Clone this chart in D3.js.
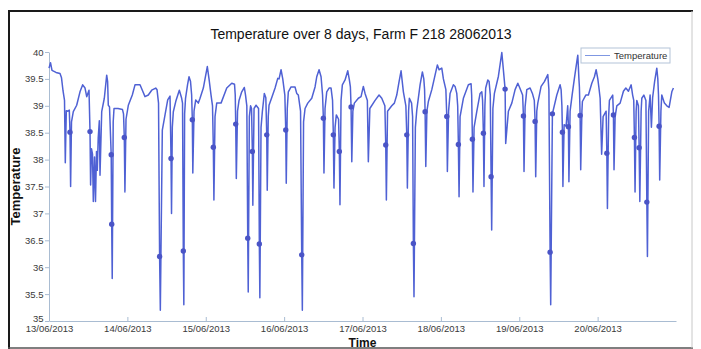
<!DOCTYPE html>
<html>
<head>
<meta charset="utf-8">
<script src="https://cdnjs.cloudflare.com/ajax/libs/d3/7.8.5/d3.min.js"></script>
<style>
  body { margin: 0; background: #fff; }
  svg { display: block; font-family: "Liberation Sans", Arial, sans-serif; }
</style>
</head>
<body>
<div id="chart"></div>
<script>
// readings: hours since 13/06/2013 00:00 and body temperature
var hours = [
  0.00,0.46,0.92,2.14,3.37,3.83,4.29,4.75,4.99,5.30,
  5.76,6.22,6.43,6.62,6.89,7.44,8.48,9.49,10.32,11.03,
  11.55,12.25,12.56,12.74,13.02,13.32,13.57,13.94,14.24,14.55,
  14.79,15.07,15.41,15.62,16.14,16.94,17.67,17.95,18.16,18.53,
  19.05,19.20,19.36,19.66,19.91,21.13,22.51,22.82,23.06,23.25,
  23.58,24.29,25.51,26.34,27.87,28.58,29.40,30.41,31.45,32.68,
  33.08,33.54,33.87,34.09,34.70,35.53,36.35,37.06,37.37,37.52,
  37.76,38.07,38.90,39.91,40.58,40.89,41.13,41.29,41.53,41.81,
  42.42,42.88,43.34,43.68,43.89,44.04,44.41,44.93,45.73,46.25,
  47.26,47.78,48.48,49.00,49.62,50.07,50.32,50.50,50.84,51.36,
  52.68,54.43,55.96,56.81,57.03,57.18,57.36,57.73,58.19,59.02,
  59.82,60.18,60.58,60.86,61.01,61.35,61.72,62.02,62.27,62.42,
  62.79,63.40,64.17,64.41,64.57,64.93,65.33,65.94,66.40,66.68,
  66.83,67.14,67.38,68.30,69.23,70.05,70.45,71.06,71.58,72.22,
  72.50,72.65,72.96,73.29,74.12,75.34,75.86,76.35,77.03,77.39,
  77.58,77.95,78.41,79.24,80.46,81.47,81.99,82.70,83.31,83.77,
  84.02,84.20,84.53,85.05,85.76,86.37,86.83,87.07,87.26,87.60,
  87.99,88.67,88.91,89.10,89.43,89.83,90.66,91.49,91.98,92.29,
  92.50,92.72,93.05,93.51,94.73,95.56,96.26,96.78,97.49,97.79,
  98.25,99.85,101.07,101.90,102.85,103.12,103.31,103.67,104.96,105.76,
  106.49,107.20,107.81,108.52,109.28,109.56,109.74,110.11,110.35,111.03,
  111.34,111.58,111.77,112.19,112.62,113.63,114.34,114.77,115.01,115.17,
  115.38,115.72,116.17,117.22,118.22,118.93,119.45,120.28,120.77,121.53,
  121.81,121.99,122.36,122.82,123.83,124.35,124.87,125.15,125.36,125.57,
  125.88,126.89,128.42,129.25,129.43,129.65,129.83,130.17,130.99,132.01,
  132.53,132.77,133.02,133.20,133.48,133.72,134.37,134.77,135.13,135.38,
  135.56,135.93,136.39,137.62,138.66,139.67,139.85,140.68,141.72,142.73,
  143.56,144.05,145.03,145.28,145.46,145.79,146.31,147.32,148.03,148.61,
  148.85,149.04,149.37,149.68,150.69,151.70,152.74,153.08,153.45,153.63,
  154.15,155.50,156.51,156.82,157.06,157.22,157.37,157.74,158.35,158.84,
  159.06,159.21,159.57,160.19,160.89,161.63,161.93,162.27,162.42,162.64,
  162.82,163.19,163.34,164.38,165.18,166.22,167.02,167.54,168.06,168.37,
  168.77,169.23,169.68,170.60,170.82,171.00,171.37,171.61,172.62,172.84,
  173.02,173.36,173.88,174.89,175.90,176.64,177.43,178.26,178.72,179.06,
  179.27,179.46,179.79,180.00,180.49,180.71,180.92,181.32,181.53,182.15,
  182.79,183.07,183.25,183.62,184.07,184.47,184.84,185.45,186.12,186.43,
  186.64,186.83,187.01,187.38,187.65,188.45,189.19,189.89,190.72,191.21
];
var temps = [
  39.70,39.80,39.66,39.62,39.60,39.52,39.28,39.10,37.94,38.91,
  38.90,38.92,38.51,37.50,38.70,38.89,39.01,39.26,39.39,39.33,
  39.17,39.29,38.52,37.53,38.20,38.10,37.22,38.05,37.22,38.15,
  37.80,38.40,38.72,37.71,38.89,39.14,39.57,39.45,39.01,38.98,
  38.09,36.80,35.79,38.70,38.95,38.95,38.93,38.85,38.41,37.40,
  38.75,39.01,39.20,39.39,39.39,39.29,39.17,39.20,39.29,39.33,
  39.30,39.05,36.20,35.20,38.55,38.83,39.11,39.18,38.02,37.00,
  38.60,38.89,39.10,39.29,39.15,39.05,36.30,35.30,38.85,39.14,
  39.39,39.54,39.45,39.20,38.74,37.75,38.90,39.11,39.05,39.14,
  39.33,39.50,39.73,39.50,39.20,39.00,38.23,37.25,38.80,39.05,
  39.05,39.33,39.42,39.40,39.20,38.66,37.65,38.90,39.10,39.26,
  39.34,39.20,39.00,36.54,35.54,38.80,39.00,38.95,38.15,37.15,
  38.95,39.01,38.95,36.43,35.43,38.60,38.89,39.23,39.15,38.46,
  37.43,38.80,39.01,39.17,39.33,39.51,39.50,39.67,39.50,39.20,
  38.55,37.56,38.95,39.26,39.35,39.35,39.23,39.20,38.90,36.23,
  35.20,38.70,38.95,39.05,39.14,39.35,39.54,39.67,39.54,39.20,
  38.77,37.75,38.95,39.26,39.33,39.33,39.10,38.46,37.47,38.60,
  38.83,38.75,38.15,37.16,39.10,39.39,39.48,39.65,39.48,39.35,
  38.98,37.96,38.90,39.05,39.14,39.17,39.36,39.23,39.10,37.96,
  38.95,39.10,39.20,39.14,39.00,38.27,37.25,38.90,39.00,39.05,
  39.20,39.45,39.65,39.26,39.00,38.46,37.47,38.90,39.14,39.05,
  38.80,36.44,35.45,38.60,38.92,39.39,39.63,39.50,39.30,38.89,
  37.87,38.90,39.08,39.30,39.57,39.76,39.67,39.70,39.50,39.30,
  38.80,37.78,38.90,39.23,39.39,39.36,39.23,39.00,38.28,37.31,
  38.80,39.14,39.39,39.41,39.20,38.38,37.40,38.60,38.89,39.23,
  39.26,39.10,38.49,37.50,39.00,39.33,39.48,39.45,39.20,37.68,
  36.69,38.95,39.23,39.55,39.99,39.31,38.30,38.90,39.05,39.30,
  39.42,39.35,39.20,38.81,37.78,38.98,39.30,39.33,39.23,39.10,
  38.71,37.68,38.90,39.05,39.36,39.45,39.58,39.30,36.28,35.30,
  38.85,39.20,39.39,39.30,39.00,38.51,37.50,38.65,38.62,39.00,
  38.61,37.59,38.90,39.20,39.51,39.82,39.94,39.50,39.35,38.82,
  37.81,38.90,39.08,39.20,39.20,39.42,39.54,39.67,39.50,39.35,
  39.14,38.10,38.80,38.90,38.12,37.09,38.80,39.10,39.20,38.83,
  37.81,38.80,39.00,39.05,39.27,39.33,39.27,39.39,39.20,39.10,
  38.41,37.40,38.90,39.10,39.00,38.22,37.22,38.90,39.14,39.20,
  39.10,37.21,36.20,38.90,39.20,38.60,39.15,39.45,39.70,39.50,
  39.20,38.62,37.62,38.90,39.20,39.05,39.00,38.97,39.26,39.33
];
var dayLabels = ["13/06/2013", "14/06/2013", "15/06/2013", "16/06/2013",
                 "17/06/2013", "18/06/2013", "19/06/2013", "20/06/2013"];
var tempTicks = [35, 35.5, 36, 36.5, 37, 37.5, 38, 38.5, 39, 39.5, 40];
var seriesName = "Temperature";
var chartTitle = "Temperature over 8 days, Farm F 218 28062013";

var width = 701, height = 349;
var plot = { left: 49, right: 676, top: 52, bottom: 321 };
var lineColor = "#4f61d4";
var axisColor = "#a9bcd2";

var parseDay = d3.timeParse("%d/%m/%Y");
var start = parseDay(dayLabels[0]);
var data = hours.map(function (h, i) {
  return { date: new Date(start.getTime() + h * 3600000), value: temps[i] };
});

var svg = d3.select("#chart").append("svg")
  .attr("width", width)
  .attr("height", height);

// outer frame of the scanned chart
svg.append("line").attr("x1", 8).attr("y1", 11).attr("x2", 693).attr("y2", 11)
  .style("stroke", "#1a1a1a").style("stroke-width", 2);
svg.append("line").attr("x1", 9).attr("y1", 10).attr("x2", 9).attr("y2", 349)
  .style("stroke", "#1a1a1a").style("stroke-width", 2);
svg.append("line").attr("x1", 8).attr("y1", 348).attr("x2", 693).attr("y2", 348)
  .style("stroke", "#555").style("stroke-width", 1.5);
svg.append("line").attr("x1", 692).attr("y1", 11).attr("x2", 692).attr("y2", 348)
  .style("stroke", "#c8c8c8").style("stroke-width", 1);

var x = d3.scaleTime()
  .domain([start, d3.timeDay.offset(start, 8)])
  .range([plot.left, plot.right]);
var y = d3.scaleLinear()
  .domain([35, 40])
  .range([plot.bottom, plot.top]);

// x axis
var gx = svg.append("g")
  .attr("transform", "translate(0," + plot.bottom + ")")
  .call(d3.axisBottom(x)
    .tickValues(dayLabels.map(parseDay))
    .tickFormat(d3.timeFormat("%d/%m/%Y"))
    .tickSizeInner(-4)
    .tickSizeOuter(0)
    .tickPadding(4.5));

// y axis
var gy = svg.append("g")
  .attr("transform", "translate(" + plot.left + ",0)")
  .call(d3.axisLeft(y)
    .tickValues(tempTicks)
    .tickFormat(d3.format(""))
    .tickSizeInner(4)
    .tickSizeOuter(0)
    .tickPadding(1.5));

[gx, gy].forEach(function (g) {
  g.select(".domain").style("stroke", axisColor);
  g.selectAll(".tick line").style("stroke", axisColor);
  g.selectAll(".tick text")
    .style("font-family", "'Liberation Sans', Arial, sans-serif")
    .style("font-size", "9.5px")
    .style("fill", "#3a3a3a");
});
// bottom label of the y axis sits a touch higher, as in the scan
gy.selectAll(".tick text").filter(function (d) { return d === 35; }).attr("dy", "0em");

// the series
svg.append("path")
  .datum(data)
  .attr("fill", "none")
  .attr("stroke", lineColor)
  .attr("stroke-width", 1.5)
  .attr("stroke-linejoin", "round")
  .attr("d", d3.line()
    .x(function (d) { return x(d.date); })
    .y(function (d) { return y(d.value); }));

// markers stay visible only where a reading sits inside a steep drop or rise
var steep = data.filter(function (d, i) {
  if (i === 0 || i === data.length - 1) return false;
  var a = data[i - 1].value - d.value, b = d.value - data[i + 1].value;
  return a * b > 0 && Math.abs(a) >= 0.35 && Math.abs(b) >= 0.35;
});
svg.append("g").selectAll("circle")
  .data(steep)
  .enter().append("circle")
  .attr("cx", function (d) { return x(d.date); })
  .attr("cy", function (d) { return y(d.value); })
  .attr("r", 2.7)
  .attr("fill", "#4a54c6");

// titles
svg.append("text")
  .attr("x", 361).attr("y", 38.5)
  .attr("text-anchor", "middle")
  .style("font-size", "14px")
  .style("fill", "#111")
  .text(chartTitle);

svg.append("text")
  .attr("transform", "translate(20," + ((plot.top + plot.bottom) / 2) + ") rotate(-90)")
  .attr("text-anchor", "middle")
  .style("font-size", "13px")
  .style("font-weight", "bold")
  .style("fill", "#111")
  .text("Temperature");

svg.append("text")
  .attr("x", (plot.left + plot.right) / 2).attr("y", 346.5)
  .attr("text-anchor", "middle")
  .style("font-size", "12px")
  .style("font-weight", "bold")
  .style("fill", "#111")
  .text("Time");

// legend
var legend = svg.append("g").attr("transform", "translate(581,48)");
legend.append("rect")
  .attr("width", 89).attr("height", 15)
  .attr("fill", "#fff")
  .attr("stroke", "#b3c3d8");
legend.append("line")
  .attr("x1", 4).attr("x2", 29).attr("y1", 7.5).attr("y2", 7.5)
  .attr("stroke", "#7f97e2").attr("stroke-width", 1);
legend.append("text")
  .attr("x", 33).attr("y", 11)
  .style("font-size", "9.5px")
  .style("fill", "#333")
  .text(seriesName);
</script>
</body>
</html>
